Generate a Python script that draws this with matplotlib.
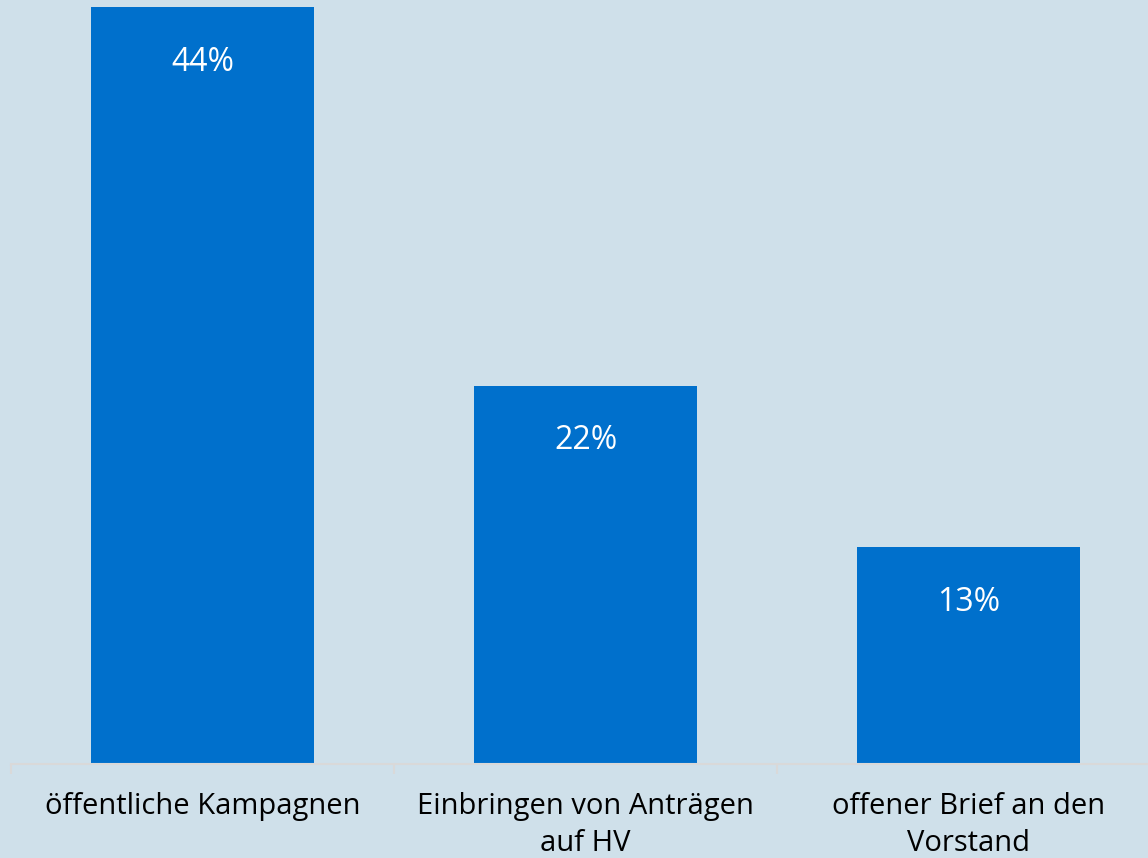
import matplotlib.pyplot as plt
import numpy as np

categories = ["öffentliche Kampagnen", "Einbringen von Anträgen\nauf HV", "offener Brief an den\nVorstand"]
values = [44, 22, 12.6]
labels = ["44%", "22%", "13%"]

BG = "#CFE0EA"
BAR = "#0070CC"
GRID = "#D9D9D9"

plt.rcParams["font.family"] = ["Open Sans", "DejaVu Sans"]

fig = plt.figure(figsize=(11.48, 8.58), dpi=100)
fig.patch.set_facecolor(BG)
# axes spans slightly past the right edge, like the original slide crop
ax = fig.add_axes([11 / 1148, 1 - 764 / 858, 1149 / 1148, 764 / 858])
ax.set_facecolor(BG)

x = np.arange(len(categories))
bars = ax.bar(x, values, width=0.58, color=BAR, zorder=2)
ax.set_xlim(-0.5, len(categories) - 0.5)
ax.set_ylim(0, 44.42)

for b, lab in zip(bars, labels):
    ax.annotate(lab, (b.get_x() + b.get_width() / 2, b.get_height()),
                xytext=(0, -55), textcoords="offset pixels",
                ha="center", va="center", color="white", fontsize=23)

for s in ["top", "right", "left"]:
    ax.spines[s].set_visible(False)
ax.spines["bottom"].set_color(GRID)
ax.spines["bottom"].set_linewidth(1.5)
ax.set_yticks([])
ax.set_xticks(x)
ax.set_xticklabels(categories, fontsize=21, color="black", linespacing=1.38)
ax.tick_params(axis="x", which="major", length=0, pad=20)
ax.set_xticks(np.arange(len(categories) + 1) - 0.5, minor=True)
ax.tick_params(axis="x", which="minor", length=7, width=1.5, color=GRID)

fig.savefig("out.png", dpi=100, facecolor=BG)
